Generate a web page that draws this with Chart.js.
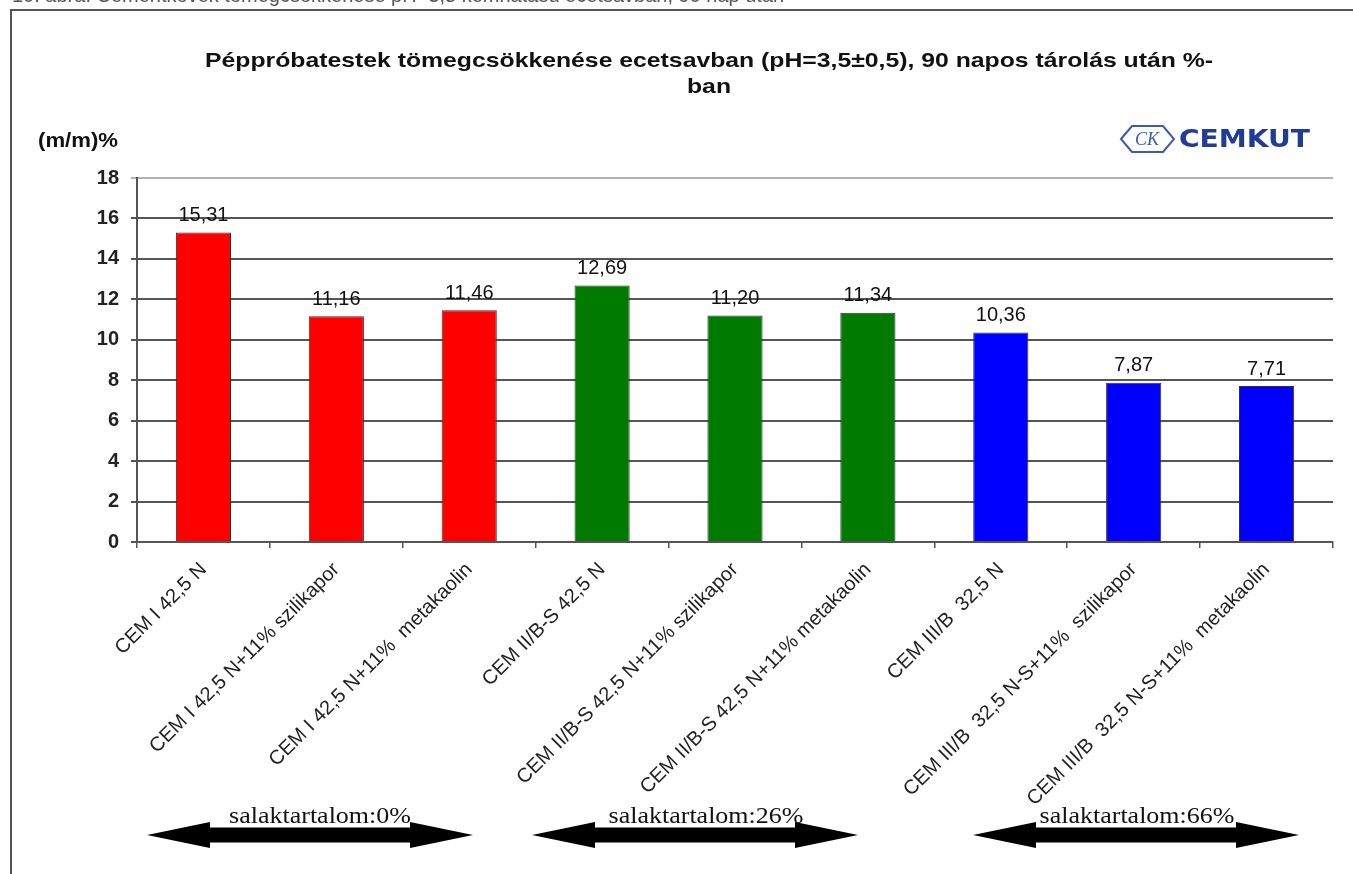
<!DOCTYPE html>
<html lang="hu">
<head>
<meta charset="utf-8">
<title>Péppróbatestek tömegcsökkenése</title>
<script src="https://cdn.jsdelivr.net/npm/chart.js@4"></script>
<style>
    html, body { margin: 0; padding: 0; background: #fff; }
    #wrap { position: relative; width: 1353px; height: 874px; overflow: hidden; }
    #caption {
        position: absolute; left: 12px; top: -16px; z-index: 2;
        font: 20px/23px "Liberation Sans", Arial, sans-serif; color: #555;
        white-space: nowrap;
    }
    canvas { position: absolute; left: 0; top: 0; z-index: 1; }
</style>
</head>
<body>
<div id="wrap">
    <div id="caption">10. ábra: Cementkövek tömegcsökkenése pH=3,5 kémhatású ecetsavban, 90 nap után</div>
    <canvas id="chart" width="1353" height="874"></canvas>
</div>
<script>
// chart data
const categories = [
    'CEM I 42,5 N',
    'CEM I 42,5 N+11% szilikapor',
    'CEM I 42,5 N+11%  metakaolin',
    'CEM II/B-S 42,5 N',
    'CEM II/B-S 42,5 N+11% szilikapor',
    'CEM II/B-S 42,5 N+11% metakaolin',
    'CEM III/B  32,5 N',
    'CEM III/B  32,5 N-S+11%  szilikapor',
    'CEM III/B  32,5 N-S+11%  metakaolin'
];
const values = [15.31, 11.16, 11.46, 12.69, 11.20, 11.34, 10.36, 7.87, 7.71];
const groupOfBar = [0, 0, 0, 1, 1, 1, 2, 2, 2];
const groupLabels = ['salaktartalom:0%', 'salaktartalom:26%', 'salaktartalom:66%'];
const yMin = 0;
const yMax = 18;
const yStep = 2;

const titleLines = ['Péppróbatestek tömegcsökkenése ecetsavban (pH=3,5±0,5), 90 napos tárolás után %-', 'ban'];
const yAxisTitle = '(m/m)%';

// styling
const groupColors = ['#ff0000', '#007a00', '#0000ff'];
const SANS = '"Liberation Sans", Arial, sans-serif';
const SERIF = '"Liberation Serif", "Times New Roman", serif';

function fmt(v) {
    return v.toFixed(2).replace('.', ',');
}

// text squeezed / stretched horizontally to a given width
function fitText(ctx, text, x, y, width, align) {
    const w = ctx.measureText(text).width;
    ctx.save();
    ctx.translate(x, y);
    ctx.scale(width / w, 1);
    ctx.textAlign = align;
    ctx.fillText(text, 0, 0);
    ctx.restore();
}

function drawDoubleArrow(ctx, x1, x2, cy) {
    const head = 63, headHalf = 13, shaftHalf = 7.5;
    ctx.beginPath();
    ctx.moveTo(x1, cy);
    ctx.lineTo(x1 + head, cy - headHalf);
    ctx.lineTo(x1 + head, cy - shaftHalf);
    ctx.lineTo(x2 - head, cy - shaftHalf);
    ctx.lineTo(x2 - head, cy - headHalf);
    ctx.lineTo(x2, cy);
    ctx.lineTo(x2 - head, cy + headHalf);
    ctx.lineTo(x2 - head, cy + shaftHalf);
    ctx.lineTo(x1 + head, cy + shaftHalf);
    ctx.lineTo(x1 + head, cy + headHalf);
    ctx.closePath();
    ctx.fillStyle = '#000';
    ctx.fill();
}

function drawLogo(ctx) {
    ctx.save();
    ctx.beginPath();
    ctx.moveTo(1121, 139);
    ctx.lineTo(1132, 126);
    ctx.lineTo(1163, 126);
    ctx.lineTo(1174, 139);
    ctx.lineTo(1163, 152);
    ctx.lineTo(1132, 152);
    ctx.closePath();
    ctx.strokeStyle = '#3a5cb0';
    ctx.lineWidth = 2;
    ctx.stroke();
    ctx.fillStyle = '#3a5cb0';
    ctx.font = 'italic 18px ' + SERIF;
    ctx.textAlign = 'center';
    ctx.textBaseline = 'middle';
    ctx.fillText('CK', 1147, 140);
    ctx.fillStyle = '#1f3c96';
    ctx.font = 'bold 24px "DejaVu Sans", sans-serif';
    fitText(ctx, 'CEMKUT', 1179, 141, 131, 'left');
    ctx.restore();
}

const decorations = {
    id: 'decorations',
    beforeDraw(chart) {
        const ctx = chart.ctx;
        ctx.save();
        ctx.fillStyle = '#fff';
        ctx.fillRect(0, 0, chart.width, chart.height);
        ctx.strokeStyle = '#555';
        ctx.lineWidth = 2;
        ctx.beginPath();
        ctx.moveTo(11, chart.height);
        ctx.lineTo(11, 10);
        ctx.lineTo(chart.width, 10);
        ctx.stroke();
        ctx.restore();
    },
    afterDraw(chart) {
        const ctx = chart.ctx;
        ctx.save();
        // title
        ctx.fillStyle = '#111';
        ctx.font = 'bold 21px ' + SANS;
        ctx.textBaseline = 'middle';
        fitText(ctx, titleLines[0], 709, 61, 1008, 'center');
        const wBan = ctx.measureText(titleLines[1]).width * 1008 / ctx.measureText(titleLines[0]).width;
        fitText(ctx, titleLines[1], 709, 87, wBan, 'center');
        // y axis title
        ctx.font = 'bold 20px ' + SANS;
        fitText(ctx, yAxisTitle, 38, 141, 80, 'left');

        // value labels
        const meta = chart.getDatasetMeta(0);
        ctx.font = '20px ' + SANS;
        ctx.textAlign = 'center';
        ctx.textBaseline = 'bottom';
        meta.data.forEach((bar, i) => {
            ctx.fillText(fmt(values[i]), bar.x, bar.y - 7);
        });

        // slag content arrows
        const arrows = [[147, 473], [532, 858], [973, 1299]];
        const textX = [320, 706, 1137];
        ctx.font = '23px ' + SERIF;
        ctx.textBaseline = 'alphabetic';
        arrows.forEach((a, i) => {
            drawDoubleArrow(ctx, a[0], a[1], 835);
            ctx.fillStyle = '#111';
            const w = ctx.measureText(groupLabels[i]).width;
            fitText(ctx, groupLabels[i], textX[i], 823, w * 1.13, 'center');
        });
        ctx.restore();
        drawLogo(ctx);
    }
};

const ctx = document.getElementById('chart').getContext('2d');
new Chart(ctx, {
    type: 'bar',
    data: {
        labels: categories,
        datasets: [{
            data: values,
            backgroundColor: groupOfBar.map(g => groupColors[g]),
            borderColor: '#333',
            borderWidth: 1,
            categoryPercentage: 1,
            barPercentage: 0.415
        }]
    },
    options: {
        responsive: false,
        animation: false,
        layout: { padding: { left: 0, top: 178, right: 20, bottom: 0 } },
        plugins: {
            legend: { display: false },
            tooltip: { enabled: false }
        },
        scales: {
            x: {
                afterFit: scale => { scale.height = 332; },
                grid: {
                    offset: true,
                    drawOnChartArea: false,
                    color: '#555',
                    lineWidth: 1.5,
                    tickLength: 6
                },
                border: { color: '#555', width: 2 },
                ticks: {
                    minRotation: 45,
                    maxRotation: 45,
                    autoSkip: false,
                    padding: 10,
                    color: '#222',
                    font: { family: SANS, size: 20 }
                }
            },
            y: {
                min: yMin,
                max: yMax,
                afterFit: scale => { scale.width = 137; },
                grid: {
                    color: c => (c.tick && c.tick.value === yMax) ? '#b0b0b0' : '#555',
                    lineWidth: 2,
                    tickLength: 6
                },
                border: { color: '#555', width: 2 },
                ticks: {
                    stepSize: yStep,
                    padding: 12,
                    color: '#222',
                    font: { family: SANS, size: 20, weight: 'bold' }
                }
            }
        }
    },
    plugins: [decorations]
});
</script>
</body>
</html>
